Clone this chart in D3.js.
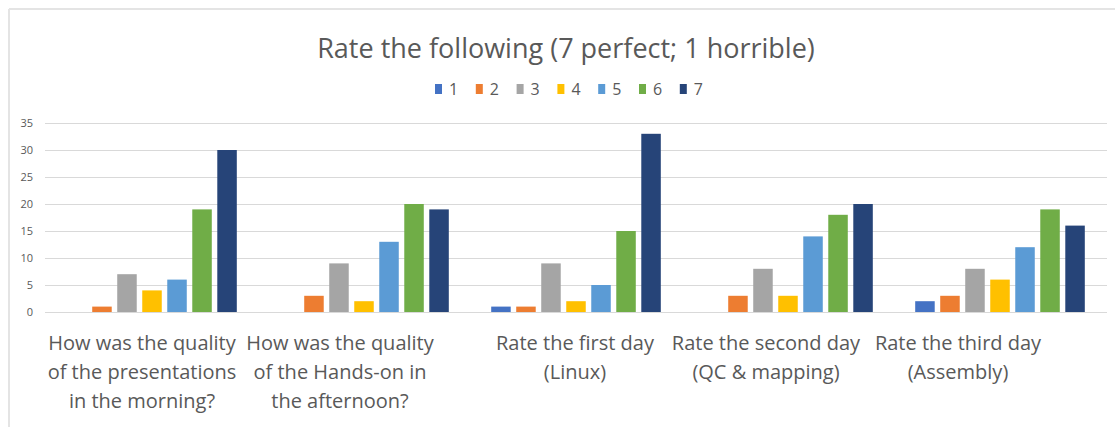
<!DOCTYPE html>
<html>
<head>
<meta charset="utf-8">
<script src="https://cdn.jsdelivr.net/npm/d3@7"></script>
<style>
  html, body { margin: 0; padding: 0; background: #fff; }
  svg { display: block; }
  text { font-family: "Open Sans", "Noto Sans", sans-serif; fill: #595959; }
</style>
</head>
<body>
<svg id="chart" width="1115" height="427"></svg>
<script>
// ---- data ----
const categories = [
  ["How was the quality", "of the presentations", "in the morning?"],
  ["How was the quality", "of the Hands-on in", "the afternoon?"],
  ["Rate the first day", "(Linux)"],
  ["Rate the second day", "(QC & mapping)"],
  ["Rate the third day", "(Assembly)"]
];
const seriesNames = ["1", "2", "3", "4", "5", "6", "7"];
const s1 = [0, 0, 1, 0, 2];
const s2 = [1, 3, 1, 3, 3];
const s3 = [7, 9, 9, 8, 8];
const s4 = [4, 2, 2, 3, 6];
const s5 = [6, 13, 5, 14, 12];
const s6 = [19, 20, 15, 18, 19];
const s7 = [30, 19, 33, 20, 16];
const yTicks = [0, 5, 10, 15, 20, 25, 30, 35];
const title = "Rate the following (7 perfect; 1 horrible)";

const seriesValues = [s1, s2, s3, s4, s5, s6, s7];
const colors = ["#4472C4", "#ED7D31", "#A5A5A5", "#FFC000", "#5B9BD5", "#70AD47", "#264478"];

// ---- layout ----
const svg = d3.select("#chart");
const plot = { left: 46, right: 1106, top: 123, bottom: 312 };
const labelDx = [-10, -24, -1, -22, -42];

// frame
svg.append("line").attr("x1", 9).attr("x2", 1115).attr("y1", 9).attr("y2", 9)
  .attr("stroke", "#e4e4e4").attr("stroke-width", 2);
svg.append("line").attr("x1", 9).attr("x2", 9).attr("y1", 9).attr("y2", 427)
  .attr("stroke", "#e4e4e4").attr("stroke-width", 2);

const catIdx = categories.map((d, i) => i);
const x0 = d3.scaleBand().domain(catIdx).range([plot.left, plot.right])
  .paddingInner(0.2).paddingOuter(0.1);
const x1 = d3.scaleBand().domain(seriesNames).range([0, x0.bandwidth()])
  .paddingInner(0.22).paddingOuter(0);
const y = d3.scaleLinear().domain([0, 35]).range([plot.bottom, plot.top]);

// gridlines
svg.append("g").selectAll("line").data(yTicks).join("line")
  .attr("x1", plot.left - 1).attr("x2", plot.right + 1)
  .attr("y1", d => Math.round(y(d)) + 0.5).attr("y2", d => Math.round(y(d)) + 0.5)
  .attr("stroke", "#d9d9d9").attr("stroke-width", 1);

// y axis labels
const yAxis = d3.axisLeft(y).tickValues(yTicks).tickSize(0).tickPadding(0);
const ya = svg.append("g").attr("transform", `translate(${plot.left - 13},0)`).call(yAxis);
ya.select(".domain").remove();
ya.selectAll("text").attr("font-size", 11).attr("font-family", "\"Open Sans\", sans-serif")
  .style("fill", "#595959");

// bars
const groups = svg.append("g").selectAll("g").data(catIdx).join("g")
  .attr("transform", d => `translate(${x0(d)},0)`);
groups.selectAll("rect")
  .data(ci => seriesNames.map((s, si) => ({ s, si, v: seriesValues[si][ci] })))
  .join("rect")
  .attr("x", d => x1(d.s))
  .attr("width", x1.bandwidth())
  .attr("y", d => y(d.v))
  .attr("height", d => y(0) - y(d.v))
  .attr("fill", d => colors[d.si]);

// category labels
const lab = svg.append("g");
categories.forEach((lines, ci) => {
  const cx = x0(ci) + x0.bandwidth() / 2 + labelDx[ci];
  lines.forEach((ln, li) => {
    lab.append("text").attr("x", cx).attr("y", 350 + li * 29)
      .attr("text-anchor", "middle").attr("font-size", 20).text(ln);
  });
});

// title
svg.append("text").attr("x", 566).attr("y", 58).attr("text-anchor", "middle")
  .attr("font-size", 27).text(title);

// legend
const lg = svg.append("g").attr("transform", "translate(435,0)");
const items = lg.selectAll("g").data(seriesNames).join("g")
  .attr("transform", (d, i) => `translate(${i * 40.8},0)`);
items.append("rect").attr("x", 0).attr("y", 84).attr("width", 7).attr("height", 10)
  .attr("fill", (d, i) => colors[i]);
items.append("text").attr("x", 14).attr("y", 95).attr("font-size", 16).text(d => d);
</script>
</body>
</html>
